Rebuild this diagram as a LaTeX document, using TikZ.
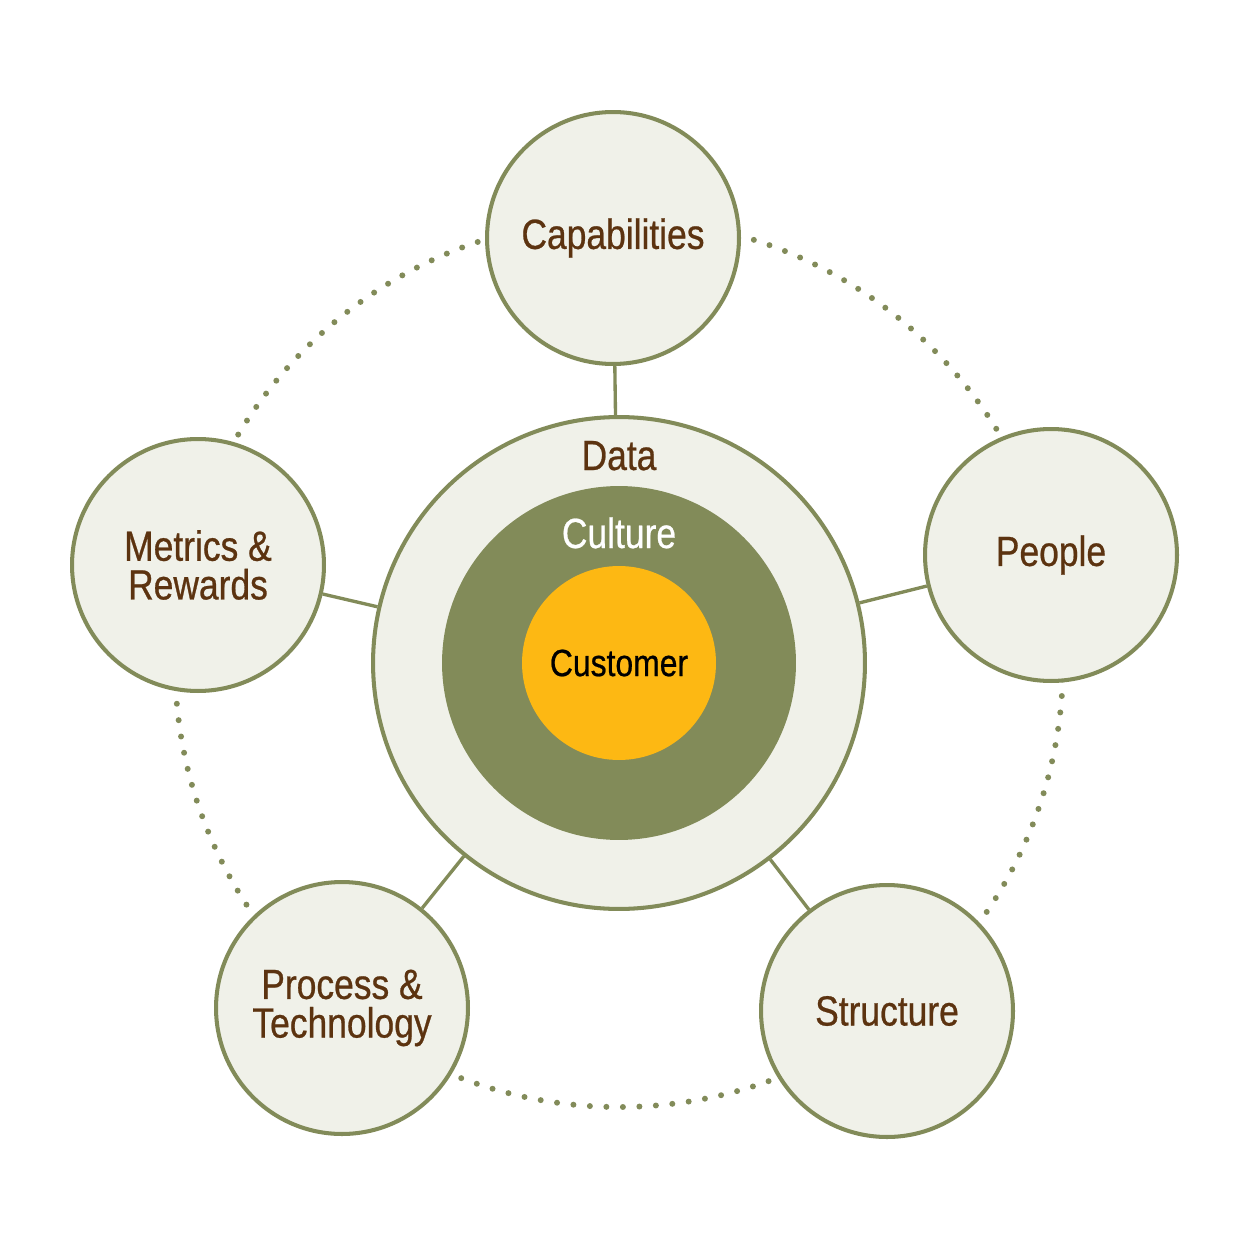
\documentclass[tikz,border=0pt]{standalone}
\usepackage{fontspec}
\setmainfont[FakeStretch=0.84, FakeBold=0.6]{Liberation Sans}
\usetikzlibrary{positioning}

\definecolor{olive}{HTML}{828B59}
\definecolor{paper}{HTML}{F0F1E9}
\definecolor{gold}{HTML}{FDB813}
\definecolor{bark}{HTML}{5C3310}

\tikzset{
  pillar/.style={circle, draw=olive, line width=2.3pt, fill=paper,
    minimum size=5.04cm, inner sep=0pt, align=center, text=bark,
    font=\fontsize{24}{22}\selectfont},
  link/.style={draw=olive, line width=1.9pt},
}

\begin{document}
\begin{tikzpicture}[x=0.02cm, y=-0.02cm]
    \useasboundingbox (0,0) rectangle (1250,1250);

    \coordinate (hub) at (619,663);
    \draw[olive, line width=3.4pt, line cap=round, dash pattern=on 0pt off 9.4pt]
        (hub) circle (444);

    \node[circle, draw=olive, line width=2.3pt, fill=paper, minimum size=9.84cm,
        inner sep=0pt] (data) at (hub) {};
    \node[circle, fill=olive, minimum size=7.08cm, inner sep=0pt] (culture) at (hub) {};
    \node[circle, fill=gold, minimum size=3.88cm, inner sep=0pt,
        font=\fontsize{21.6}{21}\selectfont] (customer) at (hub) {Customer};

    \node[anchor=base, text=bark, font=\fontsize{24}{22}\selectfont] (datatxt) at (619,470) {Data};
    \node[anchor=base, text=white, font=\fontsize{24}{22}\selectfont] (culturetxt) at (619,548) {Culture};

    \node[pillar] (capabilities) at (613,238) {Capabilities};
    \node[pillar] (people) at (1051,555) {People};
    \node[pillar] (structure) at (887,1011) {Structure};
    \node[pillar] (process) at (342,1008) {Process \&\\Technology};
    \node[pillar] (metrics) at (198,565) {Metrics \&\\Rewards};

    \draw[link] (capabilities) -- (data);
    \draw[link] (people) -- (data);
    \draw[link] (structure) -- (data);
    \draw[link] (process) -- (data);
    \draw[link] (metrics) -- (data);
\end{tikzpicture}
\end{document}
